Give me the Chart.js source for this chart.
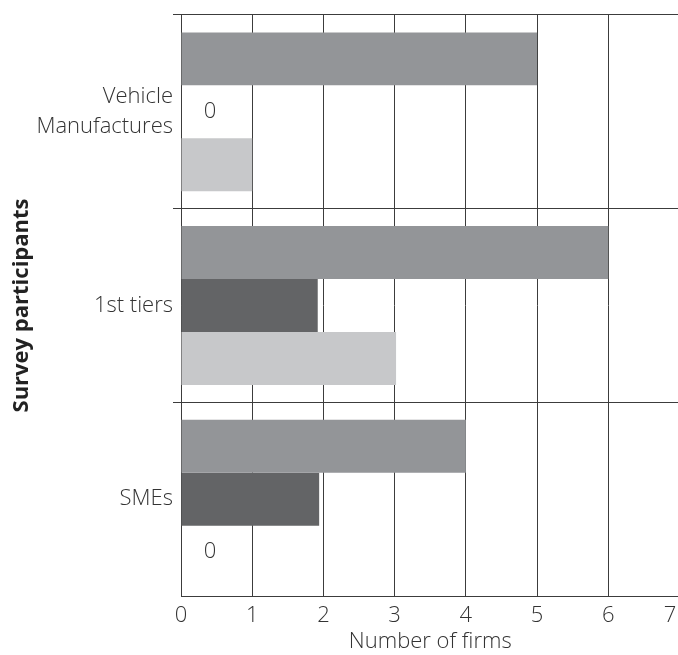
<!DOCTYPE html>
<html>
<head>
<meta charset="utf-8">
<script src="https://cdn.jsdelivr.net/npm/chart.js@4/dist/chart.umd.min.js"></script>
<style>
  html, body { margin: 0; padding: 0; background: #fff; overflow: hidden; width: 678px; height: 655px; }
  #wrap { position: relative; width: 682px; height: 655px; }
</style>
</head>
<body>
<div id="wrap"><canvas id="c"></canvas></div>
<script>
// Survey participants by group, number of firms per response
const categories = [['Vehicle', 'Manufactures'], '1st tiers', 'SMEs'];
const seriesA = [5, 6, 4];        // medium grey bars
const seriesB = [0, 1.92, 1.94];  // dark grey bars
const seriesC = [1, 3.02, 0];     // light grey bars
const xTickLabels = ['0', '1', '2', '3', '4', '5', '6', '7'];
const X_MAX = 7;

const FONT = "'Open Sans', 'Noto Sans', sans-serif";
const TEXT = '#333333';
const LINE = '#3c3c3c';
const LABEL_FONT = '300 22px ' + FONT;

// x tick labels, kept inside the visible page width at the right edge
const xLabelsPlugin = {
  id: 'xLabels',
  afterDraw(chart) {
    const xs = chart.scales.x;
    const ctx = chart.ctx;
    const visible = Math.min(chart.width, document.documentElement.clientWidth);
    ctx.save();
    ctx.font = LABEL_FONT;
    ctx.fillStyle = TEXT;
    ctx.textAlign = 'center';
    ctx.textBaseline = 'middle';
    xTickLabels.forEach((t, i) => {
      const px = Math.min(xs.getPixelForValue(i), visible - 8);
      ctx.fillText(t, px, chart.chartArea.bottom + 20);
    });
    ctx.restore();
  }
};

// "0" written where a bar has zero length
const zeroLabelPlugin = {
  id: 'zeroLabels',
  afterDatasetsDraw(chart) {
    const ctx = chart.ctx;
    const x0 = chart.scales.x.getPixelForValue(0);
    ctx.save();
    ctx.font = LABEL_FONT;
    ctx.fillStyle = TEXT;
    ctx.textAlign = 'center';
    ctx.textBaseline = 'middle';
    chart.data.datasets.forEach((ds, di) => {
      const meta = chart.getDatasetMeta(di);
      ds.data.forEach((v, i) => {
        if (v === 0) ctx.fillText(String(v), x0 + 29, meta.data[i].y);
      });
    });
    ctx.restore();
  }
};

// the gridline at the axis maximum falls on the page edge and is left out
const isMaxTick = (ctx) => ctx.tick && ctx.tick.value === X_MAX;

new Chart(document.getElementById('c'), {
  type: 'bar',
  data: {
    labels: categories,
    datasets: [
      { data: seriesA, backgroundColor: '#939598' },
      { data: seriesB, backgroundColor: '#636466' },
      { data: seriesC, backgroundColor: '#c7c8ca' }
    ]
  },
  options: {
    indexAxis: 'y',
    responsive: true,
    maintainAspectRatio: false,
    animation: false,
    devicePixelRatio: 1,
    layout: { padding: { top: 14, right: 2.5, bottom: 0, left: 0 } },
    datasets: { bar: { categoryPercentage: 0.82, barPercentage: 1.0, borderWidth: 0 } },
    plugins: { legend: { display: false }, tooltip: { enabled: false } },
    scales: {
      x: {
        min: 0, max: X_MAX,
        ticks: { display: false, stepSize: 1 },
        grid: {
          drawTicks: false,
          color: (ctx) => (isMaxTick(ctx) ? 'rgba(0,0,0,0)' : LINE),
          lineWidth: (ctx) => (isMaxTick(ctx) ? 0 : 1)
        },
        border: { display: true, color: LINE, width: 1 },
        title: {
          display: true, text: 'Number of firms', color: TEXT,
          font: { family: FONT, size: 22, weight: '300' },
          padding: 0
        },
        afterFit(scale) { scale.height = 59; scale.paddingLeft = 0; scale.paddingRight = 0; }
      },
      y: {
        ticks: {
          color: TEXT, padding: 0,
          font: { family: FONT, size: 22, weight: '300', lineHeight: 1.36 }
        },
        grid: {
          color: LINE, lineWidth: 1, tickLength: 8, offset: true,
          // no tick stub below the last category
          tickColor: (ctx) => (ctx.index === undefined ? 'rgba(0,0,0,0)' : LINE)
        },
        border: { display: true, color: LINE, width: 1 },
        title: {
          display: true, text: 'Survey participants', color: '#222222',
          font: { family: FONT, size: 22, weight: 'bold' },
          padding: { top: 9, bottom: 0 }
        },
        afterFit(scale) { scale.width = 181; }
      }
    }
  },
  plugins: [xLabelsPlugin, zeroLabelPlugin]
});
</script>
</body>
</html>
